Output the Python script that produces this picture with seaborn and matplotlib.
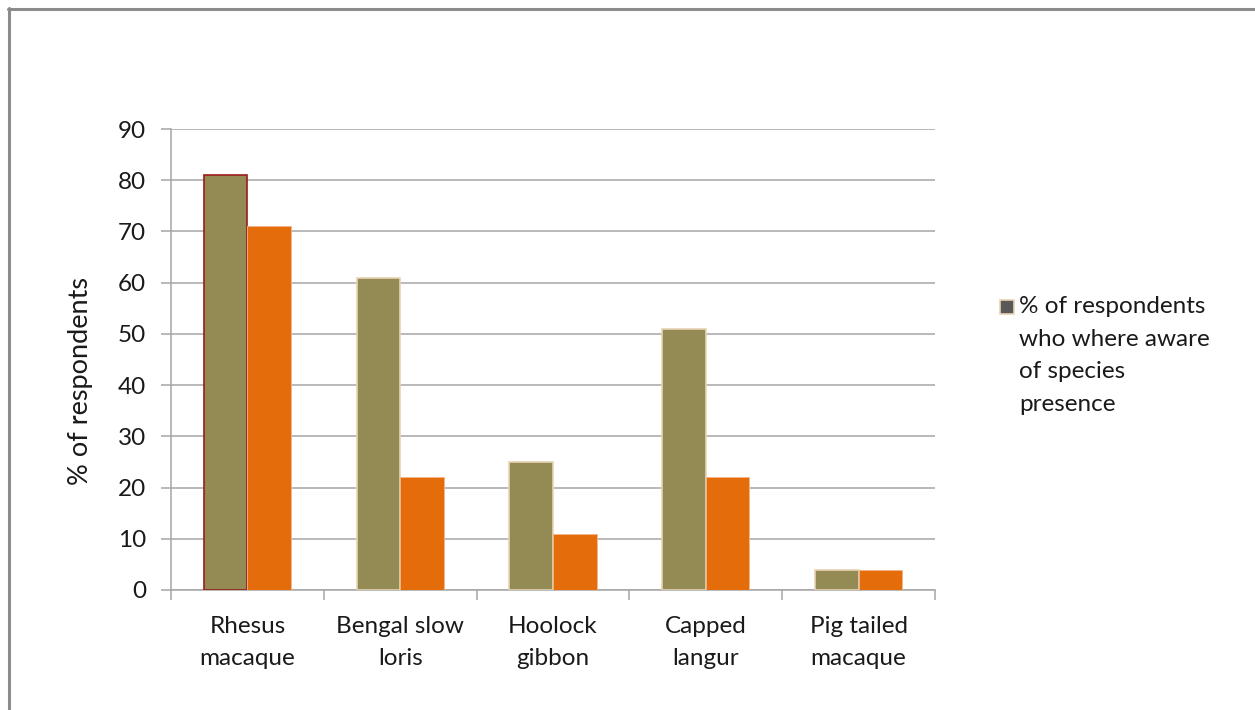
import matplotlib
matplotlib.use("Agg")
import matplotlib.pyplot as plt
import matplotlib.patches as mpatches
from matplotlib.lines import Line2D
import pandas as pd
import seaborn as sns

# data
species = ['Rhesus\nmacaque', 'Bengal slow\nloris', 'Hoolock\ngibbon', 'Capped\nlangur', 'Pig tailed\nmacaque']
aware = [81, 61, 25, 51, 4]
second = [71, 22, 11, 22, 4]
series_names = ['% of respondents\nwho where aware\nof species\npresence', 'other']

df = pd.DataFrame({
    'species': species * 2,
    'value': aware + second,
    'series': [series_names[0]] * len(species) + [series_names[1]] * len(species),
})

sns.set_theme(style="white")
plt.rcParams['font.family'] = ['Lato', 'DejaVu Sans']
fs = 17.5
txt = '#1a1a1a'

fig = plt.figure(figsize=(12.55, 7.10), dpi=100)
ax = fig.add_axes([171 / 1255, 1 - 590 / 710, (935 - 171) / 1255, (590 - 129) / 710])

sns.barplot(data=df, x='species', y='value', hue='series', order=species,
            hue_order=series_names, palette=['#948A54', '#E46C0A'],
            width=0.57, gap=0, saturation=1, ax=ax, legend=False, zorder=3)

# edge colours like the original
green_bars = ax.patches[:len(species)]
for i, p in enumerate(green_bars):
    p.set_edgecolor('#9B1C1C' if i == 0 else '#E8D3B4')
    p.set_linewidth(1.2)
for p in ax.patches[len(species):]:
    p.set_edgecolor('#F3B68A')
    p.set_linewidth(0.6)

ax.set_ylim(0, 90)
ax.set_yticks(range(0, 91, 10))
ax.set_xlim(-0.5, len(species) - 0.5)
ax.yaxis.grid(True, color='#A6A6A6', linewidth=1.1, zorder=0)
ax.set_axisbelow(True)
for s in ['top', 'right']:
    ax.spines[s].set_visible(False)
for s in ['left', 'bottom']:
    ax.spines[s].set_color('#A6A6A6')
    ax.spines[s].set_linewidth(1.1)

ax.set_xticks([i - 0.5 for i in range(len(species) + 1)], minor=True)
ax.tick_params(axis='x', which='minor', length=7, color='#A6A6A6', width=1.1, bottom=True)
ax.tick_params(axis='x', which='major', length=0, pad=19, labelsize=fs, labelcolor=txt)
ax.tick_params(axis='y', length=7, color='#A6A6A6', width=1.1, left=True, pad=11,
               labelsize=fs, labelcolor=txt)
for lab in ax.get_xticklabels():
    lab.set_linespacing(1.6)
ax.set_xlabel('')
ax.set_ylabel('% of respondents', fontsize=19.5, color=txt)
ax.yaxis.set_label_coords(-0.102, 0.453)

# legend: only the first series is listed, square sits on the first text line
fig.add_artist(mpatches.Rectangle((1000 / 1255, 1 - 314 / 710), 14 / 1255, 14 / 710,
                                  transform=fig.transFigure, facecolor='#595959',
                                  edgecolor='#E8D3B4', linewidth=1.2))
fig.text(1019 / 1255, 1 - 296 / 710, series_names[0], ha='left', va='top',
         fontsize=fs, color=txt, linespacing=1.68)

# outer frame (top and left edges only visible)
fig.add_artist(Line2D([8 / 1255, 1], [1 - 9 / 710, 1 - 9 / 710], color='#8C8C8C', linewidth=2.2))
fig.add_artist(Line2D([9 / 1255, 9 / 1255], [0, 1 - 8 / 710], color='#8C8C8C', linewidth=2.2))

fig.savefig('out.png', dpi=100)
